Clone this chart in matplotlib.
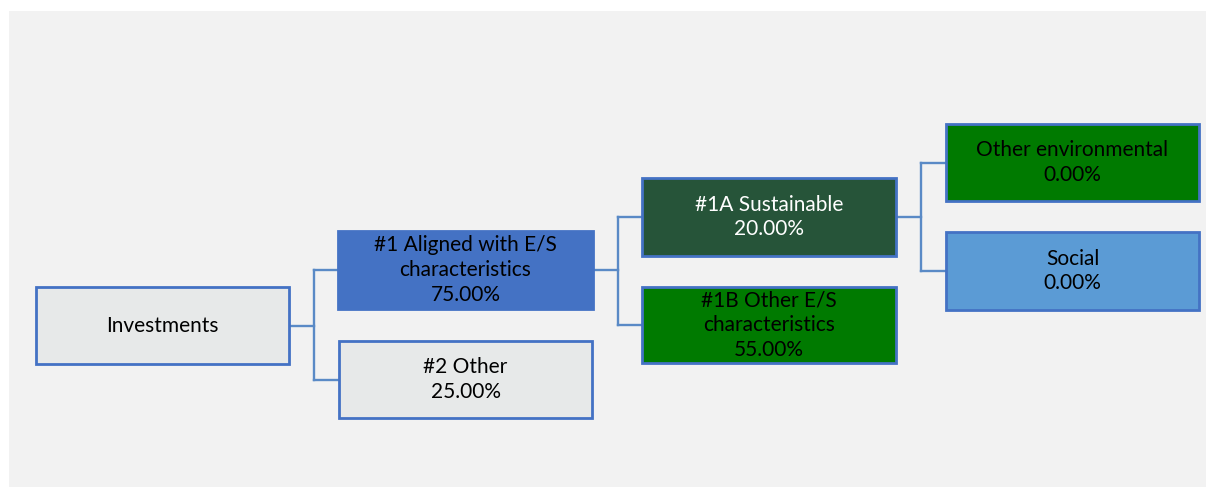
import matplotlib.pyplot as plt
from matplotlib.patches import Rectangle

# Node labels, values and fill colours
labels = ["Investments", "#1 Aligned with E/S\ncharacteristics", "#2 Other",
          "#1A Sustainable", "#1B Other E/S\ncharacteristics",
          "Other environmental", "Social"]
values = [None, 75.00, 25.00, 20.00, 55.00, 0.00, 0.00]
fills = ["#E7E9E9", "#4472C4", "#E7E9E9", "#265439", "#007A00", "#007A00", "#5B9BD5"]
text_colors = ["black", "black", "black", "white", "black", "black", "black"]
# parent -> children
edges = {0: [1, 2], 1: [3, 4], 3: [5, 6]}

# box geometry in pixels: (left, top, right, bottom)
boxes = [(36, 287, 289, 364), (338, 231, 593, 309), (339, 341, 592, 418),
         (642, 178, 896, 256), (642, 287, 896, 363),
         (946, 124, 1199, 201), (946, 232, 1199, 310)]

W, H = 1206, 487
fig = plt.figure(figsize=(W / 100, H / 100), dpi=100)
ax = fig.add_axes([0, 0, 1, 1])
ax.set_xlim(0, W)
ax.set_ylim(H, 0)
ax.axis("off")

ax.add_patch(Rectangle((9, 11), W - 9, H - 11, facecolor="#F2F2F2", edgecolor="none", zorder=0))

edge_col = "#4472C4"
line_col = "#5A8AC6"

# connectors
for p, kids in edges.items():
    l, t, r, b = boxes[p]
    ym = (t + b) / 2
    xm = r + 25
    ax.plot([r, xm], [ym, ym], color=line_col, lw=1.7, zorder=1)
    ys = [(boxes[k][1] + boxes[k][3]) / 2 for k in kids]
    ax.plot([xm, xm], [min(ys), max(ys)], color=line_col, lw=1.7, zorder=1)
    for k, yk in zip(kids, ys):
        ax.plot([xm, boxes[k][0]], [yk, yk], color=line_col, lw=1.7, zorder=1)

# boxes
for i, (l, t, r, b) in enumerate(boxes):
    ax.add_patch(Rectangle((l, t), r - l, b - t, facecolor=fills[i],
                           edgecolor=edge_col, lw=2, zorder=2))
    txt = labels[i]
    if values[i] is not None:
        txt += "\n{:.2f}%".format(values[i])
    ax.text((l + r) / 2, (t + b) / 2, txt, ha="center", va="center",
            color=text_colors[i], fontsize=15, family="Lato",
            linespacing=1.3, zorder=3)

fig.savefig("out.png", dpi=100, facecolor="white")
